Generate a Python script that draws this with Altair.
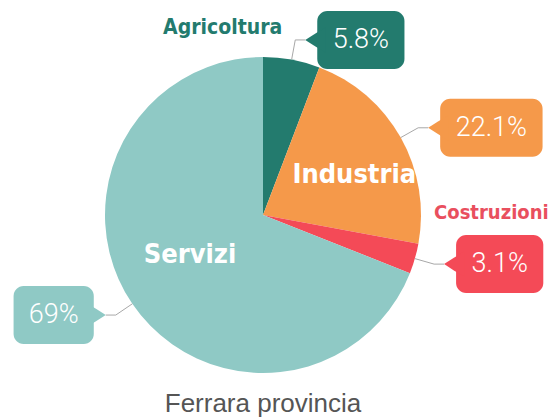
import altair as alt
import pandas as pd

categories = ["Agricoltura", "Industria", "Costruzioni", "Servizi"]
values = [5.8, 22.1, 3.1, 69.0]
value_labels = ["5.8%", "22.1%", "3.1%", "69%"]
colors = ["#237b6e", "#f5994a", "#f44a57", "#8fc9c5"]
name_colors = ["#237b6e", "#ffffff", "#e94f5e", "#ffffff"]

W, H = 544, 380
CX, CY, R = 255, 207, 158
NAME_FONT = "DejaVu Sans Condensed, DejaVu Sans, sans-serif"
VAL_FONT = "Roboto, Open Sans, sans-serif"

df = pd.DataFrame({
    "cat": categories,
    "value": values,
    "label": value_labels,
    "idx": list(range(len(categories))),
    "namecolor": name_colors,
})

xs = alt.Scale(domain=[0, W], nice=False, zero=False)
ys = alt.Scale(domain=[0, H], nice=False, zero=False, reverse=True)
col = alt.Color("cat:N", scale=alt.Scale(domain=categories, range=colors), legend=None)

base = alt.Chart(df)

pie = base.mark_arc(radius=R).encode(
    theta=alt.Theta("value:Q", stack=True),
    color=col,
    order=alt.Order("idx:Q"),
    x=alt.value(CX),
    y=alt.value(CY),
)

geo = base.transform_window(
    cum="sum(value)", sort=[alt.SortField("idx")], frame=[None, 0]
).transform_joinaggregate(
    total="sum(value)"
).transform_calculate(
    frac="datum.value / datum.total",
    mid="2*PI*(datum.cum - datum.value/2)/datum.total",
    side="sin(datum.mid) >= 0 ? 1 : -1",
    ex=f"{CX} + {R}*sin(datum.mid)",
    ey=f"{CY} - {R}*cos(datum.mid)",
    kx=f"{CX} + {R + 20}*sin(datum.mid)",
    ky=f"{CY} - {R + 20}*cos(datum.mid)",
    tx="datum.kx + 10*datum.side",
    ty="datum.ky",
    hasdot="indexof(datum.label, '.') >= 0 ? 1 : 0",
    bw="30 + 19.8 + 15.2*(length(datum.label) - 1 - datum.hasdot) + 7*datum.hasdot",
    b1="datum.tx + 12*datum.side",
    b2="datum.tx + (12 + datum.bw)*datum.side",
    btop="datum.ty - 29",
    bbot="datum.ty + 29",
    lx="(datum.b1 + datum.b2)/2",
    px="datum.tx + 7*datum.side",
    ang="datum.side > 0 ? 0 : 180",
    nmid="datum.mid + 0.1",
    nr=f"{R}*(0.68 - 0.224*datum.frac)",
    nx=f"{CX} + datum.nr*sin(datum.nmid)",
    ny=f"{CY} - datum.nr*cos(datum.nmid)",
)

lead1 = geo.mark_rule(color="#a8a8a8", strokeWidth=1).encode(
    x=alt.X("ex:Q", scale=xs, axis=None), y=alt.Y("ey:Q", scale=ys, axis=None),
    x2="kx:Q", y2="ky:Q",
)
lead2 = geo.mark_rule(color="#a8a8a8", strokeWidth=1).encode(
    x=alt.X("kx:Q", scale=xs, axis=None), y=alt.Y("ky:Q", scale=ys, axis=None),
    x2="tx:Q", y2="ty:Q",
)

boxes = geo.mark_rect(cornerRadius=10).encode(
    x=alt.X("b1:Q", scale=xs, axis=None), x2="b2:Q",
    y=alt.Y("btop:Q", scale=ys, axis=None), y2="bbot:Q",
    color=col,
)

pointers = geo.mark_point(
    shape="M -1 0 L 0.4 -0.9 L 1.9 -1.8 L 1.9 1.8 L 0.4 0.9 Z",
    filled=True, opacity=1, size=196, strokeWidth=0,
).encode(
    x=alt.X("px:Q", scale=xs, axis=None),
    y=alt.Y("ty:Q", scale=ys, axis=None),
    angle=alt.Angle("ang:Q", scale=None),
    color=col,
)

vals = geo.mark_text(
    font=VAL_FONT, fontSize=27, fontWeight=300, color="white", baseline="middle", align="center"
).encode(
    x=alt.X("lx:Q", scale=xs, axis=None),
    y=alt.Y("ty:Q", scale=ys, axis=None),
    text="label:N",
)

inner = geo.transform_filter("datum.frac >= 0.1").mark_text(
    font=NAME_FONT, fontSize=27, fontWeight="bold", color="white", baseline="middle", align="center"
).encode(
    x=alt.X("nx:Q", scale=xs, axis=None),
    y=alt.Y("ny:Q", scale=ys, axis=None),
    text="cat:N",
)

outer_top = geo.transform_filter("datum.frac < 0.1 && cos(datum.mid) > 0.5").transform_calculate(
    ox="datum.tx - 23", oy="datum.ty - 12"
).mark_text(
    font=NAME_FONT, fontSize=21, fontWeight="bold", baseline="middle", align="right"
).encode(
    x=alt.X("ox:Q", scale=xs, axis=None),
    y=alt.Y("oy:Q", scale=ys, axis=None),
    text="cat:N",
    color=alt.Color("namecolor:N", scale=None),
)

outer_side = geo.transform_filter("datum.frac < 0.1 && cos(datum.mid) <= 0.5").transform_calculate(
    ox="datum.tx - 10", oy="datum.ty - 51"
).mark_text(
    font=NAME_FONT, fontSize=20, fontWeight="bold", baseline="middle", align="left"
).encode(
    x=alt.X("ox:Q", scale=xs, axis=None),
    y=alt.Y("oy:Q", scale=ys, axis=None),
    text="cat:N",
    color=alt.Color("namecolor:N", scale=None),
)

chart = alt.layer(
    pie, lead1, lead2, boxes, pointers, vals, inner, outer_top, outer_side
).resolve_scale(color="independent").properties(
    width=W, height=H,
    padding={"left": 0, "top": 0, "right": 0, "bottom": 32},
    autosize=alt.AutoSizeParams(type="none"),
    title=alt.Title(
        "Ferrara provincia", orient="bottom", font="Liberation Sans, Arial, sans-serif",
        fontSize=26, fontWeight="normal", color="#555555", offset=24, baseline="alphabetic",
        anchor="middle", dx=-17,
    ),
).configure_view(stroke=None)

chart.save("out.html", embed_options={"renderer": "svg", "actions": False})
